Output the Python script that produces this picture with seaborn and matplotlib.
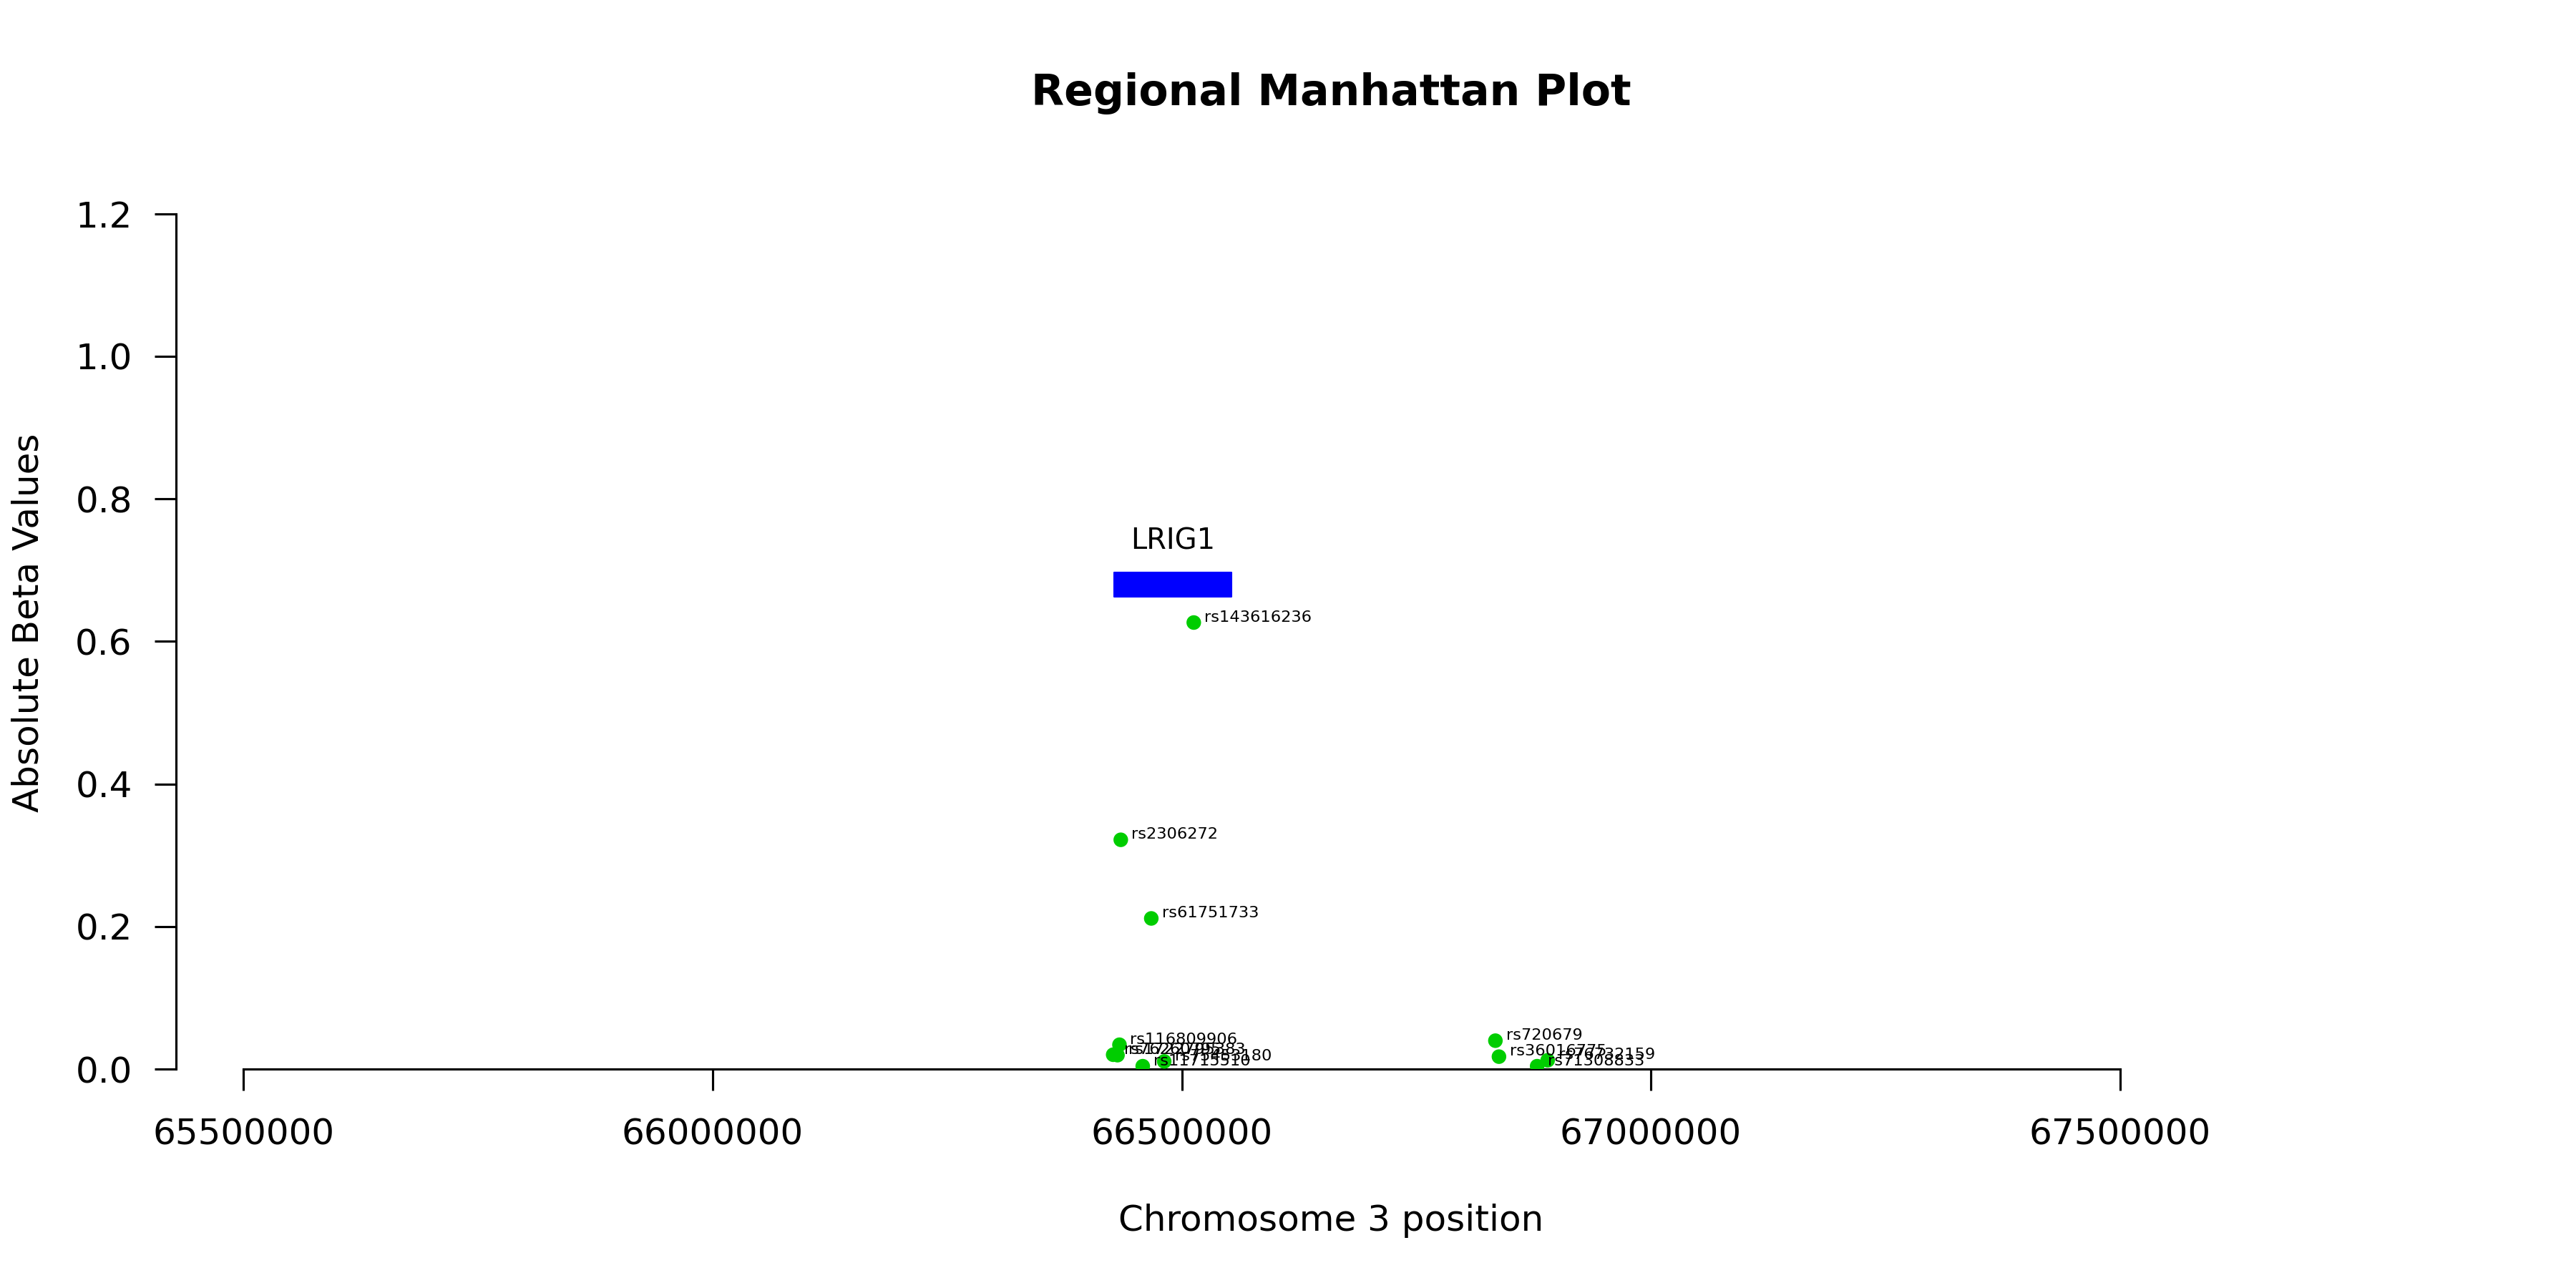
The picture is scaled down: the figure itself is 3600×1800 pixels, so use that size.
import matplotlib
matplotlib.use("Agg")
import pandas as pd
import matplotlib.pyplot as plt
import seaborn as sns

# ------------------------------------------------------------------
# data
# ------------------------------------------------------------------
SNP_IDS = ["rs143616236", "rs2306272", "rs61751733", "rs116809906",
           "rs76260795", "rs1722795383", "rs11715510", "rs75453180",
           "rs720679", "rs36016775", "rs71308833", "rs76732159"]
SNP_POS = [66512800, 66435000, 66467500, 66433600,
           66426900, 66431500, 66458400, 66481300,
           66834300, 66838100, 66878800, 66890000]
SNP_BETA = [0.6264, 0.3216, 0.2113, 0.0341,
            0.0201, 0.0195, 0.0040, 0.0107,
            0.0398, 0.0174, 0.0040, 0.0123]

GENE_NAME = "LRIG1"
GENE_START = 66428200
GENE_END = 66553000
GENE_LOW = 0.6625
GENE_HIGH = 0.6962
GENE_LABEL_Y = 0.729

X_TICKS = [65500000, 66000000, 66500000, 67000000, 67500000]
Y_TICKS = [0.0, 0.2, 0.4, 0.6, 0.8, 1.0, 1.2]
X_LIMITS = (65428000, 67890000)
Y_LIMITS = (0, 1.2528)

df = pd.DataFrame({"snp": SNP_IDS, "pos": SNP_POS, "beta": SNP_BETA})

sns.set_theme(style="white")
plt.rcParams["font.family"] = ["DejaVu Sans"]

W, H = 3600, 1800
fig = plt.figure(figsize=(12, 6), dpi=300)
ax = fig.add_axes([246 / W, 306 / H, 3228 / W, 1248 / H])

# gene block + name
ax.broken_barh([(GENE_START, GENE_END - GENE_START)],
               (GENE_LOW, GENE_HIGH - GENE_LOW), facecolors="#0000FF",
               edgecolors="#0000FF", linewidth=0.5)
ax.text((GENE_START + GENE_END) / 2, GENE_LABEL_Y, GENE_NAME,
        ha="center", va="baseline", fontsize=9.6, color="black")

# SNPs
sns.scatterplot(data=df, x="pos", y="beta", ax=ax, color="#00CD00",
                s=24, edgecolor="none", linewidth=0, zorder=3)
for _, row in df.iterrows():
    ax.annotate(row["snp"], (row["pos"], row["beta"]),
                xytext=(3.6, 0.35), textcoords="offset points",
                ha="left", va="baseline", fontsize=5.4, color="black", zorder=4)

ax.set_xlim(*X_LIMITS)
ax.set_ylim(*Y_LIMITS)

sns.despine(ax=ax)
for side in ["left", "bottom"]:
    ax.spines[side].set_color("black")
    ax.spines[side].set_linewidth(0.75)
ax.spines["left"].set_bounds(Y_TICKS[0], Y_TICKS[-1])
ax.spines["bottom"].set_bounds(X_TICKS[0], X_TICKS[-1])

ax.set_xticks(X_TICKS)
ax.set_xticklabels([str(t) for t in X_TICKS])
ax.set_yticks(Y_TICKS)
ax.set_yticklabels([f"{t:.1f}" for t in Y_TICKS])
ax.tick_params(axis="both", which="major", direction="out", length=7.2,
               width=0.75, color="black", labelsize=12, labelcolor="black",
               left=True, bottom=True)
ax.tick_params(axis="x", pad=9)
ax.tick_params(axis="y", pad=7.5)
ax.grid(False)

ax.set_xlabel("Chromosome 3 position", fontsize=12, labelpad=17.5, color="black")
ax.set_ylabel("Absolute Beta Values", fontsize=12, labelpad=10, color="black")
ax.set_title("Regional Manhattan Plot", fontsize=14.4, fontweight="bold",
             pad=23.8, color="black")

fig.savefig("out.png", dpi=300, facecolor="white")
